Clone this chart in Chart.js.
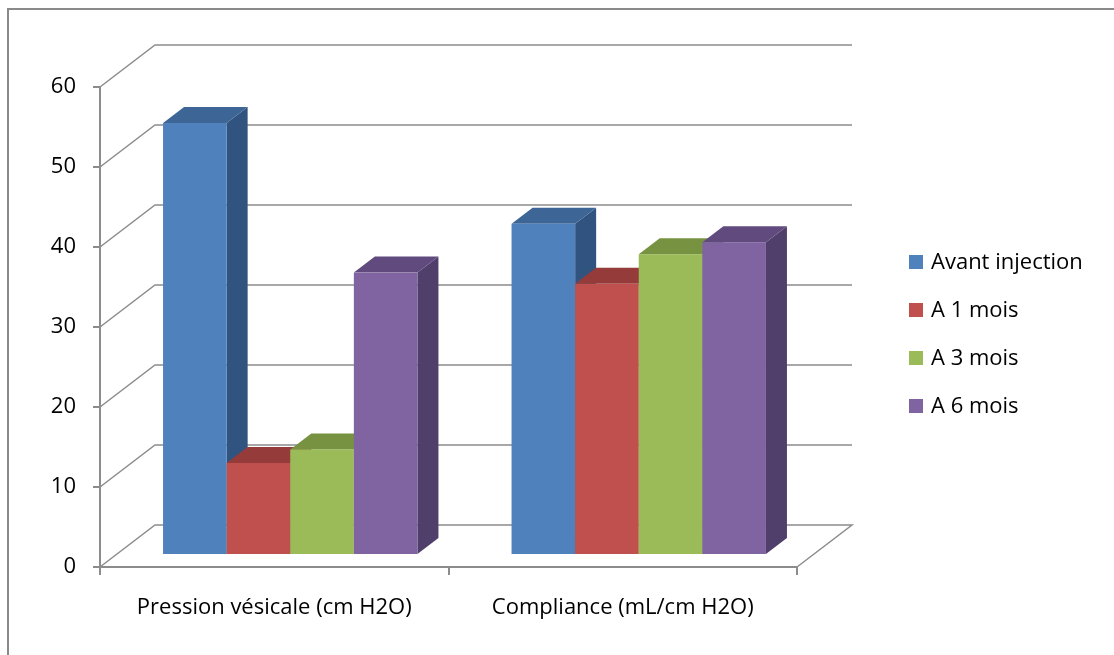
<!DOCTYPE html>
<html>
<head>
<meta charset="utf-8">
<script src="https://cdn.jsdelivr.net/npm/chart.js@4.4.1/dist/chart.umd.min.js"></script>
<style>
  html, body { margin: 0; background: #fff; }
  #wrap { width: 1114px; height: 655px; }
</style>
</head>
<body>
<div id="wrap"><canvas id="chart"></canvas></div>
<script>
// data
const categories = ['Pression vésicale (cm H2O)', 'Compliance (mL/cm H2O)'];
const seriesNames = ['Avant injection', 'A 1 mois', 'A 3 mois', 'A 6 mois'];
const avantInjection = [54, 41.4];
const unMois = [11.5, 33.9];
const troisMois = [13.2, 37.6];
const sixMois = [35.3, 39.1];
const yMax = 60;
const yStep = 10;

// front / top / side colours for each series
const fronts = ['#4F81BD', '#C0504D', '#9BBB59', '#8064A2'];
const tops = ['#3D6696', '#953B39', '#779342', '#614B7E'];
const sides = ['#31537F', '#7E302E', '#637B36', '#503F6A'];

const FONT = '"Open Sans", sans-serif';
const GRID = '#8c8c8c';

// 3d offsets (px): back wall, bar front plane, bar depth
const wall = { dx: 55, dy: -42 };
const barOff = { dx: 16, dy: -12 };
const barDepth = { dx: 21, dy: -16 };

const box3d = {
  id: 'box3d',
  beforeDatasetsDraw(chart) {
    const ctx = chart.ctx;
    const area = chart.chartArea;
    const y = chart.scales.y;
    ctx.save();
    ctx.strokeStyle = GRID;
    ctx.lineWidth = 1.5;
    y.ticks.forEach(t => {
      const py = y.getPixelForValue(t.value);
      ctx.beginPath();
      ctx.moveTo(area.left, py);
      ctx.lineTo(area.left + wall.dx, py + wall.dy);
      ctx.lineTo(area.right + wall.dx, py + wall.dy);
      if (t.value === 0) ctx.lineTo(area.right, py);
      ctx.stroke();
    });
    ctx.restore();
  },
  afterDatasetsDraw(chart) {
    const ctx = chart.ctx;
    const n = chart.data.labels.length;
    ctx.save();
    for (let i = 0; i < n; i++) {
      chart.data.datasets.forEach((ds, d) => {
        const el = chart.getDatasetMeta(d).data[i];
        const x0 = el.x - el.width / 2 + barOff.dx;
        const x1 = x0 + el.width;
        const yT = el.y + barOff.dy;
        const yB = el.base + barOff.dy;
        // side
        ctx.fillStyle = sides[d];
        ctx.beginPath();
        ctx.moveTo(x1, yT);
        ctx.lineTo(x1 + barDepth.dx, yT + barDepth.dy);
        ctx.lineTo(x1 + barDepth.dx, yB + barDepth.dy);
        ctx.lineTo(x1, yB);
        ctx.closePath();
        ctx.fill();
        // top
        ctx.fillStyle = tops[d];
        ctx.beginPath();
        ctx.moveTo(x0, yT);
        ctx.lineTo(x1, yT);
        ctx.lineTo(x1 + barDepth.dx, yT + barDepth.dy);
        ctx.lineTo(x0 + barDepth.dx, yT + barDepth.dy);
        ctx.closePath();
        ctx.fill();
        // front
        ctx.fillStyle = fronts[d];
        ctx.fillRect(x0, yT, x1 - x0, yB - yT);
      });
    }
    ctx.restore();
  },
  afterDraw(chart) {
    const ctx = chart.ctx;
    ctx.save();
    // legend
    ctx.font = '22px ' + FONT;
    ctx.textBaseline = 'middle';
    ctx.textAlign = 'left';
    seriesNames.forEach((name, d) => {
      const cy = 262 + d * 48;
      ctx.fillStyle = fronts[d];
      ctx.fillRect(909, cy - 7, 14, 14);
      ctx.fillStyle = '#000';
      ctx.fillText(name, 931, cy + 1);
    });
    // outer frame
    ctx.strokeStyle = '#8a8a8a';
    ctx.lineWidth = 2;
    ctx.beginPath();
    ctx.moveTo(8, 655);
    ctx.lineTo(8, 9);
    ctx.lineTo(1114, 9);
    ctx.stroke();
    ctx.restore();
  }
};

const makeSet = (i, values) => ({
  label: seriesNames[i],
  data: values,
  backgroundColor: 'rgba(0,0,0,0)',
  borderWidth: 0
});

new Chart(document.getElementById('chart'), {
  type: 'bar',
  data: {
    labels: categories,
    datasets: [
      makeSet(0, avantInjection),
      makeSet(1, unMois),
      makeSet(2, troisMois),
      makeSet(3, sixMois)
    ]
  },
  options: {
    responsive: true,
    maintainAspectRatio: false,
    animation: false,
    layout: { padding: { top: 87, right: 317, left: 0, bottom: 0 } },
    datasets: { bar: { categoryPercentage: 0.73, barPercentage: 1 } },
    plugins: { legend: { display: false }, tooltip: { enabled: false } },
    scales: {
      x: {
        afterFit(scale) { scale.height = 88; },
        grid: { offset: true, drawOnChartArea: false, tickLength: 8, color: GRID, lineWidth: 2 },
        border: { color: GRID, width: 2 },
        ticks: { color: '#000', font: { family: FONT, size: 22 }, padding: 20, maxRotation: 0 }
      },
      y: {
        min: 0,
        max: yMax,
        afterFit(scale) { scale.width = 100; },
        grid: { drawOnChartArea: false, tickLength: 7, color: GRID, lineWidth: 2 },
        border: { color: GRID, width: 2 },
        ticks: { stepSize: yStep, color: '#000', font: { family: FONT, size: 22 }, padding: 17 }
      }
    }
  },
  plugins: [box3d]
});
</script>
</body>
</html>
